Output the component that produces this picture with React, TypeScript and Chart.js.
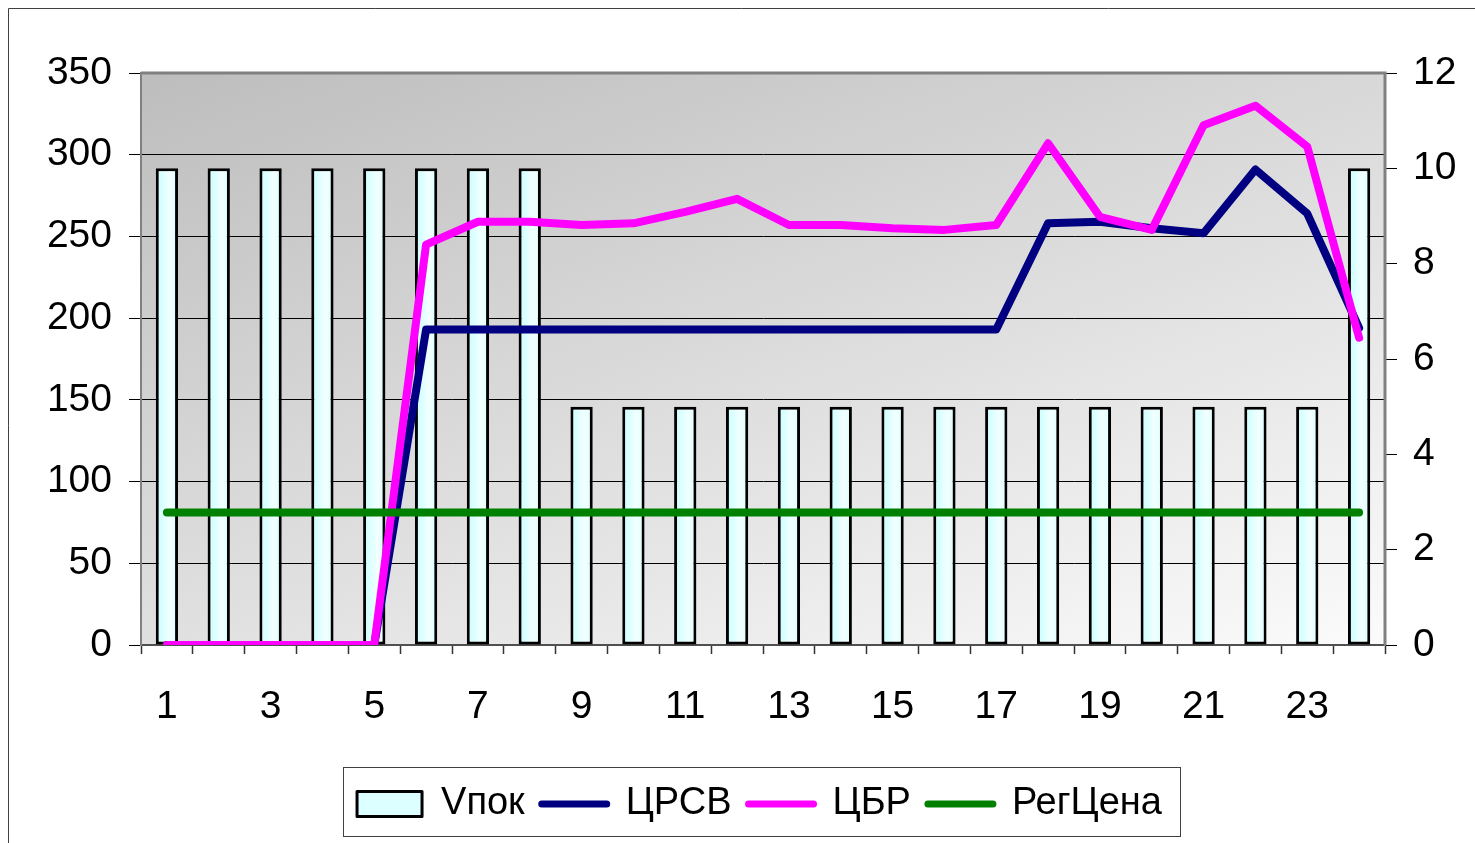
import React, { useEffect, useRef } from "react";
import { Chart, registerables } from "chart.js";

Chart.register(...registerables);

// ---- Data ----
const hours: string[] = [
  "1", "2", "3", "4", "5", "6", "7", "8", "9", "10", "11", "12",
  "13", "14", "15", "16", "17", "18", "19", "20", "21", "22", "23", "24",
];
// Vпок (right axis)
const vpok: number[] = [10, 10, 10, 10, 10, 10, 10, 10, 5, 5, 5, 5, 5, 5, 5, 5, 5, 5, 5, 5, 5, 5, 5, 10];
// ЦРСВ (left axis)
const crsv: number[] = [0, 0, 0, 0, 0, 193, 193, 193, 193, 193, 193, 193, 193, 193, 193, 193, 193, 258, 259, 255, 252, 291, 264, 194];
// ЦБР (left axis)
const cbr: number[] = [0, 0, 0, 0, 0, 245, 259, 259, 257, 258, 265, 273, 257, 257, 255, 254, 257, 307, 262, 254, 318, 330, 305, 188];
// РегЦена (left axis)
const regPrice: number[] = [81, 81, 81, 81, 81, 81, 81, 81, 81, 81, 81, 81, 81, 81, 81, 81, 81, 81, 81, 81, 81, 81, 81, 81];

const seriesNames = ["Vпок", "ЦРСВ", "ЦБР", "РегЦена"];
const leftMax = 350;
const leftStep = 50;
const rightMax = 12;
const rightStep = 2;

const FONT = "'Liberation Sans', Arial, sans-serif";

const bgPlugin = {
  id: "bgPlugin",
  beforeDraw(chart: any) {
    const { ctx, chartArea: a } = chart;
    if (!a) return;
    ctx.save();
    const g = ctx.createLinearGradient(a.left, a.top, a.left + 316, a.top + 898);
    g.addColorStop(0, "#bdbdbd");
    g.addColorStop(1, "#fbfbfb");
    ctx.fillStyle = g;
    ctx.fillRect(a.left, a.top, a.right - a.left, a.bottom - a.top);
    ctx.restore();
  },
  beforeDatasetsDraw(chart: any) {
    const { ctx, chartArea: a } = chart;
    ctx.save();
    ctx.strokeStyle = "#808080";
    ctx.lineWidth = 3;
    ctx.beginPath();
    ctx.moveTo(a.left, a.top);
    ctx.lineTo(a.right, a.top);
    ctx.lineTo(a.right, a.bottom);
    ctx.stroke();
    ctx.restore();
  },
  afterDraw(chart: any) {
    const { ctx } = chart;
    ctx.save();
    // outer frame
    ctx.strokeStyle = "#404040";
    ctx.lineWidth = 1;
    ctx.beginPath();
    ctx.moveTo(8.5, chart.height);
    ctx.lineTo(8.5, 8.5);
    ctx.lineTo(chart.width, 8.5);
    ctx.stroke();
    // legend frame
    const lg = chart.legend;
    if (lg && lg.legendHitBoxes && lg.legendHitBoxes.length) {
      const hb = lg.legendHitBoxes;
      let l = Infinity, r = -Infinity, t = Infinity, b = -Infinity;
      hb.forEach((h: any) => {
        l = Math.min(l, h.left);
        r = Math.max(r, h.left + h.width);
        t = Math.min(t, h.top);
        b = Math.max(b, h.top + h.height);
      });
      ctx.strokeStyle = "#404040";
      ctx.lineWidth = 1;
      ctx.strokeRect(Math.round(l - 14) + 0.5, Math.round(t - 18) + 0.5, Math.round(r - l + 32), Math.round(b - t + 31));
    }
    ctx.restore();
  },
};

function barFill(c: any) {
  const chart = c.chart;
  if (!chart.chartArea || c.type !== "data") return "#dcffff";
  const xs = chart.scales.x;
  const cx = xs.getPixelForValue(c.dataIndex);
  const hw = 11;
  const g = chart.ctx.createLinearGradient(cx - hw, 0, cx + hw, 0);
  g.addColorStop(0, "#c6ffff");
  g.addColorStop(0.65, "#f3ffff");
  g.addColorStop(1, "#d6ffff");
  return g;
}

export default function App() {
  const ref = useRef<HTMLCanvasElement | null>(null);
  useEffect(() => {
    if (!ref.current) return;
    Chart.defaults.font.family = FONT;
    Chart.defaults.font.size = 39;
    Chart.defaults.color = "#000";
    const chart = new Chart(ref.current, {
      type: "bar",
      data: {
        labels: hours,
        datasets: [
          {
            type: "bar",
            label: seriesNames[0],
            data: vpok,
            yAxisID: "y1",
            backgroundColor: barFill,
            borderColor: "#000",
            borderWidth: 3,
            borderSkipped: false,
            categoryPercentage: 1,
            barPercentage: 0.43,
            order: 3,
          } as any,
          {
            type: "line",
            label: seriesNames[1],
            data: crsv,
            yAxisID: "y",
            borderColor: "#000080",
            backgroundColor: "#000080",
            borderWidth: 8,
            pointRadius: 0,
            borderCapStyle: "round",
            borderJoinStyle: "round",
            tension: 0,
            order: 2,
          },
          {
            type: "line",
            label: seriesNames[2],
            data: cbr,
            yAxisID: "y",
            borderColor: "#ff00ff",
            backgroundColor: "#ff00ff",
            borderWidth: 8,
            pointRadius: 0,
            borderCapStyle: "round",
            borderJoinStyle: "round",
            tension: 0,
            order: 1,
          },
          {
            type: "line",
            label: seriesNames[3],
            data: regPrice,
            yAxisID: "y",
            borderColor: "#008000",
            backgroundColor: "#008000",
            borderWidth: 8,
            pointRadius: 0,
            borderCapStyle: "round",
            borderJoinStyle: "round",
            tension: 0,
            order: 0,
          },
        ],
      },
      options: {
        responsive: false,
        animation: false,
        devicePixelRatio: 1,
        layout: { padding: { left: 44, right: 0, top: 73, bottom: 10 } },
        plugins: {
          tooltip: { enabled: false },
          legend: {
            display: true,
            position: "bottom",
            labels: {
              usePointStyle: true,
              pointStyleWidth: 65,
              boxWidth: 65,
              boxHeight: 25,
              padding: 17,
              font: { size: 38, family: FONT },
              color: "#000",
              generateLabels: (ch: any) =>
                ch.data.datasets.map((ds: any, i: number) => ({
                  text: ds.label,
                  datasetIndex: i,
                  hidden: false,
                  fillStyle: i === 0 ? "#dcffff" : ds.borderColor,
                  strokeStyle: i === 0 ? "#000" : ds.borderColor,
                  lineWidth: i === 0 ? 3 : 7,
                  pointStyle: i === 0 ? "rect" : "line",
                  lineCap: i === 0 ? "butt" : "round",
                  lineJoin: "round",
                  fontColor: "#000",
                })),
            },
          },
        },
        scales: {
          x: {
            offset: true,
            grid: {
              display: true,
              offset: true,
              drawOnChartArea: false,
              drawTicks: true,
              tickLength: 9,
              tickColor: "#333",
              tickWidth: 1.5,
            },
            border: { display: true, color: "#505050", width: 2 },
            ticks: {
              autoSkip: false,
              maxRotation: 0,
              padding: 30,
              font: { size: 39 },
              color: "#000",
              callback: (_v: any, i: number) => (i % 2 === 0 ? hours[i] : ""),
            },
            afterFit: (s: any) => {
              s.height = 123;
            },
          },
          y: {
            position: "left",
            min: 0,
            max: leftMax,
            grid: {
              color: (c: any) => (c.tick && (c.tick.value === 0 || c.tick.value === leftMax) ? "rgba(0,0,0,0)" : "#000"),
              lineWidth: 1,
              tickLength: 12,
              tickColor: "#000",
            },
            border: { display: true, color: "#808080", width: 2 },
            ticks: {
              stepSize: leftStep,
              padding: 17,
              font: { size: 39 },
              color: "#000",
            },
            afterFit: (s: any) => {
              s.width = 97;
            },
          },
          y1: {
            position: "right",
            min: 0,
            max: rightMax,
            grid: {
              drawOnChartArea: false,
              tickLength: 12,
              tickColor: "#000",
            },
            border: { display: true, color: "#808080", width: 2 },
            ticks: {
              stepSize: rightStep,
              padding: 16,
              font: { size: 39 },
              color: "#000",
            },
            afterFit: (s: any) => {
              s.width = 90;
            },
          },
        },
      },
      plugins: [bgPlugin],
    });
    return () => chart.destroy();
  }, []);

  return (
    <div style={{ position: "fixed", left: 0, top: 0, width: 1475, height: 843, background: "#fff" }}>
      <canvas ref={ref} width={1475} height={843} style={{ display: "block" }} />
    </div>
  );
}
